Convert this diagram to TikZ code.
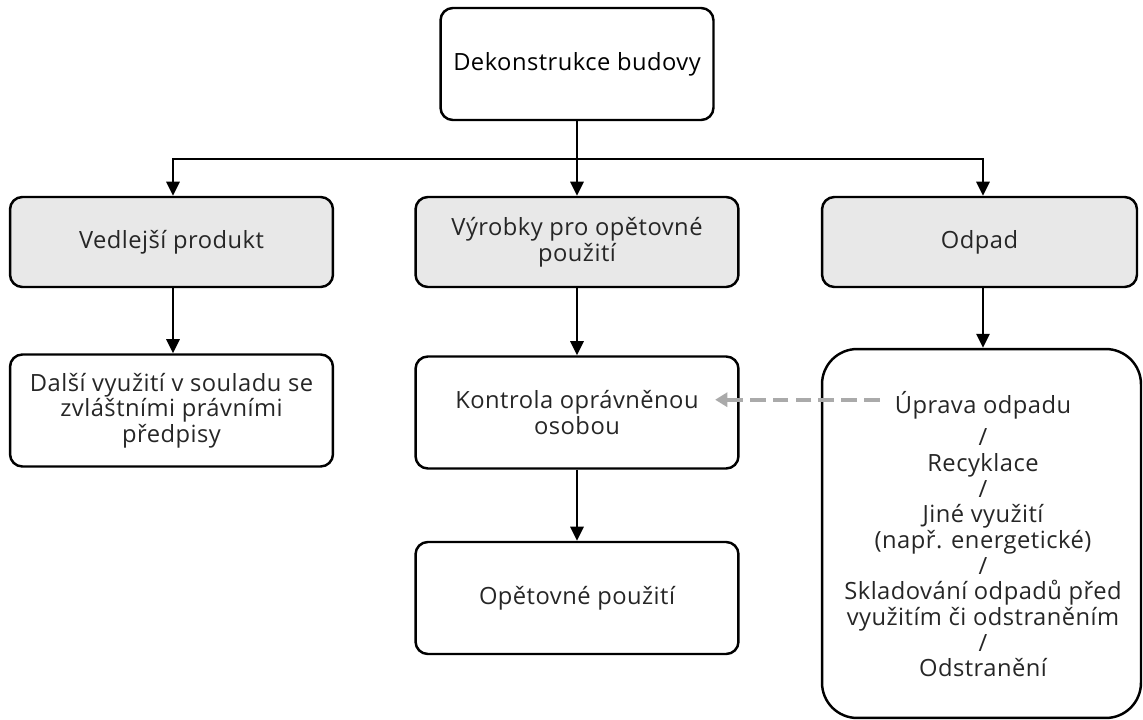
\documentclass[tikz,border=0pt]{standalone}
\usepackage{fontspec}
\setmainfont[LetterSpace=2]{Open Sans}
\usetikzlibrary{arrows.meta}
\definecolor{boxgray}{HTML}{E8E8E8}
\definecolor{dashgray}{HTML}{AAAAAA}
\definecolor{txt}{HTML}{262626}
\begin{document}
\begin{tikzpicture}[x=0.02cm, y=-0.02cm,
    box/.style={draw, line width=1.4pt, rounded corners=7pt, align=center,
      minimum width=6.46cm, minimum height=2.24cm, text=txt,
      font=\fontsize{13.5}{14.6}\selectfont},
    graybox/.style={box, fill=boxgray, minimum height=1.8cm},
    arr/.style={-{Triangle[width=7.5pt,length=8pt]}, line width=1.4pt}]
  \useasboundingbox (0,0) rectangle (1143,720);
    \node[box, minimum width=5.46cm] (dekon) at (577,64) {\color{black}Dekonstrukce budovy};
    \node[graybox] (vedl) at (171.5,242) {Vedlejší produkt};
    \node[graybox] (vyrob) at (577,242) {Výrobky pro opětovné\\použití};
    \node[graybox, minimum width=6.3cm] (odpad) at (979.5,242) {Odpad};
    \node[box] (dalsi) at (171.5,410.5) {Další využití v souladu se\\zvláštními právními\\předpisy};
    \node[box] (kontr) at (577,412.5) {Kontrola oprávněnou\\osobou};
    \node[box] (opet) at (577,598) {Opětovné použití};
    \node[box, minimum width=6.38cm, minimum height=7.38cm, rounded corners=20pt] (uprbox) at (981.5,533.5) {};
    \node[text=txt, font=\fontsize{13.5}{14.6}\selectfont] (uprava) at (983,405) {Úprava odpadu};
    \node[text=txt, align=center, anchor=north, inner sep=0pt,
      font=\fontsize{13.5}{14.6}\selectfont] (dalsicesty) at ([yshift=-2pt]uprava.south)
      {/\\Recyklace\\/\\Jiné využití\\(např. energetické)\\/\\Skladování odpadů před\\využitím či odstraněním\\/\\Odstranění};
    \coordinate (split) at (577,159);

    \draw[arr] (dekon) -- (vyrob);
    \draw[arr] (split) -| (vedl.north -| 173,0);
    \draw[arr] (split) -| (odpad.north -| 983,0);
    \draw[arr] (vedl.south -| 173,0) -- (dalsi.north -| 173,0);
    \draw[arr] (vyrob) -- (kontr);
    \draw[arr] (odpad.south -| 983,0) -- (uprbox.north -| 983,0);
    \draw[arr] (kontr) -- (opet);
    \draw[-{Triangle[width=8pt,length=7pt]}, dashgray, line width=2.2pt,
      dash pattern=on 9pt off 4pt, shorten <=5pt, shorten >=-14pt]
      ([yshift=3pt]uprava.west) -- ([yshift=3pt]uprava.west -| kontr.east);
\end{tikzpicture}
\end{document}
